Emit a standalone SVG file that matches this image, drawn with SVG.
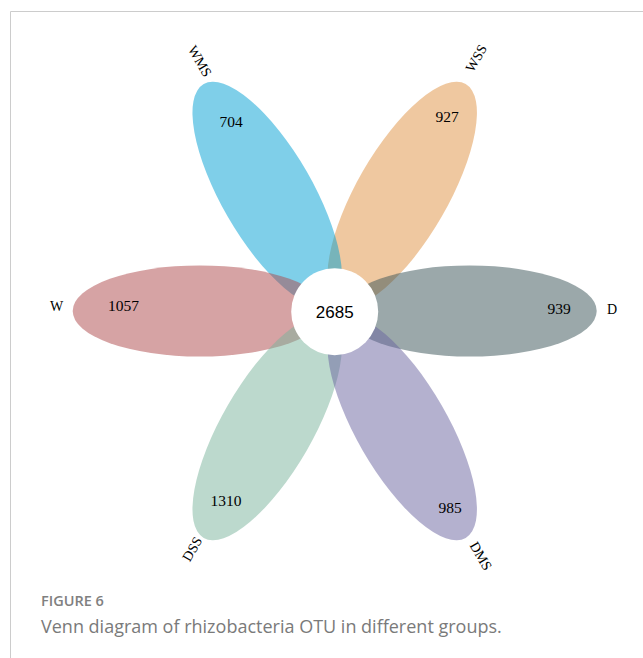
<svg xmlns="http://www.w3.org/2000/svg" width="643" height="658" viewBox="0 0 643 658">
  <style>
    .frame { fill: none; stroke: #cccccc; stroke-width: 1; }
    .petal { fill-opacity: 0.5; stroke: none; }
    .lbl { font-family: "Liberation Serif", "Times New Roman", serif; font-size: 14px; fill: #000; text-anchor: middle; }
    .num { font-family: "Liberation Serif", "Times New Roman", serif; font-size: 15.5px; fill: #000; text-anchor: middle; }
    .core { font-family: "Liberation Sans", Arial, sans-serif; font-size: 17px; fill: #000; text-anchor: middle; }
    .fig { font-family: "Open Sans", "Liberation Sans", sans-serif; font-size: 14.5px; font-weight: 600; fill: #808080; }
    .cap { font-family: "Open Sans", "Liberation Sans", sans-serif; font-size: 18px; fill: #7a7a7a; }
  </style>

  <rect width="643" height="658" fill="#ffffff"/>
  <!-- panel frame: top and left rules -->
  <path class="frame" d="M10.5 658 V11.5 H643"/>

  <!-- six-set flower Venn: petals share a common core at (334.7, 311) -->
  <g id="WSS">
    <ellipse class="petal" cx="402.2" cy="194.1" rx="127" ry="45.5" fill="rgb(223,145,65)" transform="rotate(-60 402.2 194.1)"/>
    <text class="num" x="447" y="121.5">927</text>
    <text class="lbl" transform="translate(476 58) rotate(-60)" dy="0.35em">WSS</text>
  </g>
  <g id="WMS">
    <ellipse class="petal" cx="267.2" cy="194.1" rx="127" ry="45.5" fill="rgb(0,159,211)" transform="rotate(60 267.2 194.1)"/>
    <text class="num" x="231" y="126.5">704</text>
    <text class="lbl" transform="translate(200 61) rotate(60)" dy="0.35em">WMS</text>
  </g>
  <g id="W">
    <ellipse class="petal" cx="199.7" cy="311" rx="127" ry="45.5" fill="rgb(173,71,73)"/>
    <text class="num" x="123.5" y="310.5">1057</text>
    <text class="lbl" x="56.5" y="311">W</text>
  </g>
  <g id="DSS">
    <ellipse class="petal" cx="267.2" cy="427.9" rx="127" ry="45.5" fill="rgb(121,179,155)" transform="rotate(-60 267.2 427.9)"/>
    <text class="num" x="226" y="506">1310</text>
    <text class="lbl" transform="translate(192 549) rotate(-60)" dy="0.35em">DSS</text>
  </g>
  <g id="D">
    <ellipse class="petal" cx="469.7" cy="311" rx="127" ry="45.5" fill="rgb(55,81,85)"/>
    <text class="num" x="559" y="314">939</text>
    <text class="lbl" x="612" y="314">D</text>
  </g>
  <g id="DMS">
    <ellipse class="petal" cx="402.2" cy="427.9" rx="127" ry="45.5" fill="rgb(105,99,159)" transform="rotate(60 402.2 427.9)"/>
    <text class="num" x="450" y="512.5">985</text>
    <text class="lbl" transform="translate(481 556) rotate(60)" dy="0.35em">DMS</text>
  </g>

  <!-- shared core -->
  <g id="core">
    <circle cx="334.7" cy="311.7" r="43.5" fill="#ffffff"/>
    <text class="core" x="334.7" y="318">2685</text>
  </g>

  <!-- caption -->
  <g id="caption">
    <text class="fig" x="41" y="606">FIGURE 6</text>
    <text class="cap" x="41" y="633">Venn diagram of rhizobacteria OTU in different groups.</text>
  </g>
</svg>
